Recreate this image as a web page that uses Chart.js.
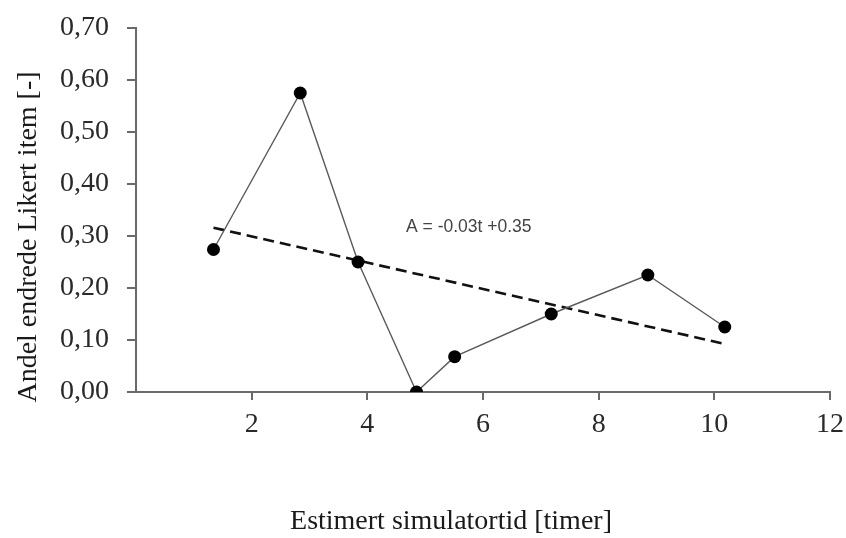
<!DOCTYPE html>
<html>
<head>
<meta charset="utf-8">
<title>Andel endrede Likert item</title>
<script src="https://cdn.jsdelivr.net/npm/chart.js@4.4.1/dist/chart.umd.min.js"></script>
<style>
    html, body { margin: 0; padding: 0; background: #fff; }
    #wrap { width: 846px; height: 538px; }
</style>
</head>
<body>
<div id="wrap"><canvas id="likertChart" width="846" height="538"></canvas></div>
<script>
    // Estimert simulatortid (timer) og andel endrede Likert item
    var simTimes = [1.34, 2.84, 3.84, 4.85, 5.51, 7.18, 8.85, 10.18];
    var shareChanged = [0.274, 0.575, 0.250, 0.0, 0.068, 0.150, 0.225, 0.125];

    // Trendlinje A = -0.03t + 0.35 (endepunkter lest av figuren)
    var trendTimes = [1.34, 10.2];
    var trendValues = [0.316, 0.092];

    var yTicks = [0, 0.1, 0.2, 0.3, 0.4, 0.5, 0.6, 0.7];
    var xTicks = [2, 4, 6, 8, 10, 12];

    var xTitle = 'Estimert simulatortid [timer]';
    var yTitle = 'Andel endrede Likert item [-]';
    var trendLabel = 'A = -0.03t +0.35';

    var serif = '"Liberation Serif", "Times New Roman", serif';
    var axisColor = '#6a6a6a';

    // Draw axis titles and the trend equation ourselves so they sit where the original has them
    var titlesPlugin = {
        id: 'titles',
        afterDraw: function (chart) {
            var ctx = chart.ctx;
            var xs = chart.scales.x, ys = chart.scales.y;
            ctx.save();
            ctx.fillStyle = '#1a1a1a';
            ctx.textAlign = 'center';
            ctx.textBaseline = 'middle';
            ctx.font = '28px ' + serif;
            ctx.fillText(xTitle, 451, 522);

            ctx.save();
            ctx.translate(29, 237);
            ctx.rotate(-Math.PI / 2);
            ctx.fillText(yTitle, 0, 0);
            ctx.restore();

            ctx.fillStyle = '#444';
            ctx.textAlign = 'left';
            ctx.font = '17.5px "Liberation Sans", Arial, sans-serif';
            ctx.fillText(trendLabel, xs.getPixelForValue(4.67), ys.getPixelForValue(0.317));
            ctx.restore();
        }
    };

    var ctx = document.getElementById('likertChart').getContext('2d');
    var likertChart = new Chart(ctx, {
        type: 'scatter',
        data: {
            datasets: [{
                label: 'Andel',
                data: simTimes.map(function (t, i) { return { x: t, y: shareChanged[i] }; }),
                showLine: true,
                borderColor: '#5a5a5a',
                borderWidth: 1.4,
                pointRadius: 6.5,
                pointBackgroundColor: '#000',
                pointBorderColor: '#000',
                pointBorderWidth: 0,
                order: 1
            }, {
                label: 'Trend',
                data: trendTimes.map(function (t, i) { return { x: t, y: trendValues[i] }; }),
                showLine: true,
                borderColor: '#111',
                borderWidth: 2.6,
                borderDash: [11, 6],
                pointRadius: 0,
                order: 2
            }]
        },
        options: {
            responsive: false,
            animation: false,
            layout: { padding: { top: 28, right: 16, left: 0, bottom: 0 } },
            plugins: {
                legend: { display: false },
                tooltip: { enabled: false }
            },
            scales: {
                x: {
                    type: 'linear',
                    min: 0,
                    max: 12,
                    afterFit: function (scale) {
                        scale.height = 146;
                        scale.paddingRight = 0;
                        scale.paddingLeft = 0;
                    },
                    afterBuildTicks: function (scale) {
                        scale.ticks = xTicks.map(function (v) { return { value: v }; });
                    },
                    ticks: {
                        color: '#2a2a2a',
                        padding: 8,
                        maxRotation: 0,
                        font: { family: serif, size: 28 },
                        callback: function (v) { return String(v); }
                    },
                    grid: { drawOnChartArea: false, drawTicks: true, tickLength: 8, color: axisColor, lineWidth: 2 },
                    border: { display: true, color: axisColor, width: 2 }
                },
                y: {
                    type: 'linear',
                    min: 0,
                    max: 0.7,
                    afterFit: function (scale) {
                        scale.width = 136;
                        scale.paddingTop = 0;
                        scale.paddingBottom = 0;
                    },
                    afterBuildTicks: function (scale) {
                        scale.ticks = yTicks.map(function (v) { return { value: v }; });
                    },
                    ticks: {
                        color: '#2a2a2a',
                        padding: 18,
                        font: { family: serif, size: 28 },
                        callback: function (v) { return v.toFixed(2).replace('.', ','); }
                    },
                    grid: { drawOnChartArea: false, drawTicks: true, tickLength: 9, color: axisColor, lineWidth: 2 },
                    border: { display: true, color: axisColor, width: 2 }
                }
            }
        },
        plugins: [titlesPlugin]
    });
</script>
</body>
</html>
